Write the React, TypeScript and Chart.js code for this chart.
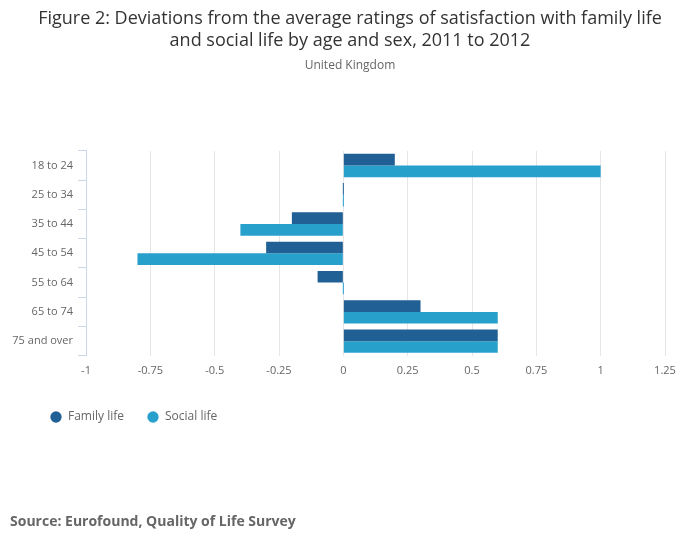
import { useEffect, useRef } from "react";
import { Chart, registerables } from "chart.js";

Chart.register(...registerables);

const ageGroups = ["18 to 24", "25 to 34", "35 to 44", "45 to 54", "55 to 64", "65 to 74", "75 and over"];
const familyLife = [0.2, 0, -0.2, -0.3, -0.1, 0.3, 0.6];
const socialLife = [1, 0, -0.4, -0.8, 0, 0.6, 0.6];

const FONT = "'Open Sans', sans-serif";

// legend box spans the full width; nudge it right so the first item sits under the axis labels
const legendShift = {
  id: "legendShift",
  afterLayout(chart: any) {
    if (chart.legend) chart.legend.left += 27;
  },
};

export default function App() {
  const canvasRef = useRef<HTMLCanvasElement>(null);

  useEffect(() => {
    document.body.style.margin = "0";
    if (!canvasRef.current) return;
    const chart = new Chart(canvasRef.current, {
      type: "bar",
      data: {
        labels: ageGroups,
        datasets: [
          { label: "Family life", data: familyLife, backgroundColor: "#206095", minBarLength: 1 },
          { label: "Social life", data: socialLife, backgroundColor: "#27a0cc", minBarLength: 1 },
        ],
      },
      options: {
        indexAxis: "y",
        responsive: true,
        maintainAspectRatio: false,
        animation: false,
        categoryPercentage: 0.8,
        barPercentage: 1,
        layout: { padding: { left: 0, right: 0, top: 0, bottom: 116 } },
        plugins: {
          title: {
            display: true,
            text: [
              "Figure 2: Deviations from the average ratings of satisfaction with family life",
              "and social life by age and sex, 2011 to 2012",
            ],
            color: "#333333",
            font: { family: FONT, size: 18, weight: "normal" },
            padding: { top: 8.5, bottom: 4 },
          },
          subtitle: {
            display: true,
            text: "United Kingdom",
            color: "#666666",
            font: { family: FONT, size: 12 },
            padding: { top: 3, bottom: 77.8 },
          },
          legend: {
            position: "bottom",
            align: "start",
            labels: {
              usePointStyle: true,
              pointStyle: "circle",
              boxWidth: 12,
              boxHeight: 8,
              padding: 23,
              color: "#666666",
              font: { family: FONT, size: 12 },
            },
          },
          tooltip: { enabled: false },
        },
        scales: {
          x: {
            min: -1,
            max: 1.25,
            ticks: {
              stepSize: 0.25,
              padding: 8,
              color: "#666666",
              font: { family: FONT, size: 11 },
              callback: (v: any) => String(Number(v)),
            },
            grid: { color: "#e6e6e6", drawTicks: false },
            border: { display: false },
            afterFit: (s: any) => {
              s.height += 3;
              s.paddingRight = 35;
            },
          },
          y: {
            ticks: {
              padding: 5,
              color: "#666666",
              font: { family: FONT, size: 11 },
            },
            grid: { drawOnChartArea: false, drawTicks: true, tickLength: 8, color: "#ccd6eb" },
            border: { display: true, color: "#ccd6eb" },
            afterFit: (s: any) => {
              s.width = 86;
            },
          },
        },
      } as any,
      plugins: [legendShift],
    });
    return () => chart.destroy();
  }, []);

  return (
    <div style={{ position: "relative", width: 700, height: 549 }}>
      <canvas ref={canvasRef} />
      <div
        style={{
          position: "absolute",
          left: 10,
          top: 511,
          fontFamily: FONT,
          fontWeight: "bold",
          fontSize: 14,
          color: "#666666",
        }}
      >
        Source: Eurofound, Quality of Life Survey
      </div>
    </div>
  );
}
